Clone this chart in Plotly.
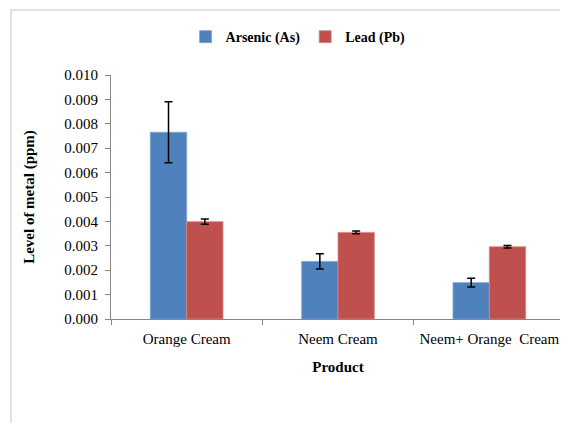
import plotly.graph_objects as go

categories = ["Orange Cream", "Neem Cream", "Neem+ Orange  Cream"]
arsenic = [0.00765, 0.00236, 0.00149]
arsenic_err = [0.00125, 0.00031, 0.00018]
lead = [0.00399, 0.00355, 0.00296]
lead_err = [0.00011, 0.00006, 0.00005]
y_ticks = [0.000, 0.001, 0.002, 0.003, 0.004, 0.005, 0.006, 0.007, 0.008, 0.009, 0.010]

serif = "Liberation Serif, Times New Roman, serif"

fig = go.Figure()
fig.add_trace(go.Bar(
    name="Arsenic (As)", x=categories, y=arsenic,
    marker=dict(color="#4f81bd", line=dict(color="#7ea3d3", width=0.8)),
    error_y=dict(type="data", array=arsenic_err, visible=True, color="#000000", thickness=1.5, width=4),
))
fig.add_trace(go.Bar(
    name="Lead (Pb)", x=categories, y=lead,
    marker=dict(color="#c0504d", line=dict(color="#d98583", width=0.8)),
    error_y=dict(type="data", array=lead_err, visible=True, color="#000000", thickness=1.5, width=4),
))

fig.update_layout(
    width=560, height=415,
    margin=dict(l=103, r=3, t=67, b=104, autoexpand=False),
    paper_bgcolor="white", plot_bgcolor="white",
    barmode="group", bargap=0.52, bargroupgap=0,
    font=dict(family=serif, size=15, color="#000000"),
    showlegend=True,
    legend=dict(orientation="h", x=0.518, xref="container", xanchor="center",
                y=0.93, yref="container", yanchor="middle",
                font=dict(family=serif, size=14, color="#000000", weight="bold"),
                bgcolor="rgba(0,0,0,0)", itemwidth=30, traceorder="normal"),
    xaxis=dict(
        automargin=False,
        showline=True, linecolor="#868686", linewidth=1,
        ticks="outside", tickson="boundaries", ticklen=5, tickcolor="#868686",
        ticklabelstandoff=6,
        tickfont=dict(family=serif, size=15, color="#000000"),
        title=dict(text="<b>Product</b>", font=dict(family=serif, size=15), standoff=15),
    ),
    yaxis=dict(
        automargin=False,
        range=[0, 0.010], tickvals=y_ticks, tickformat=".3f",
        showline=True, linecolor="#868686", linewidth=1,
        ticks="outside", ticklen=5, tickcolor="#868686", showgrid=False, zeroline=False,
        ticklabelstandoff=4,
        tickfont=dict(family=serif, size=15, color="#000000"),
        title=dict(text="<b>Level of metal (ppm)</b>", font=dict(family=serif, size=15), standoff=26),
    ),
    shapes=[dict(type="rect", xref="paper", yref="paper", x0=-0.2203, x1=1.1, y0=-0.6, y1=1.2664,
                 line=dict(color="#d9d9d9", width=1.5), layer="below")],
)

fig.write_html("out.html")
